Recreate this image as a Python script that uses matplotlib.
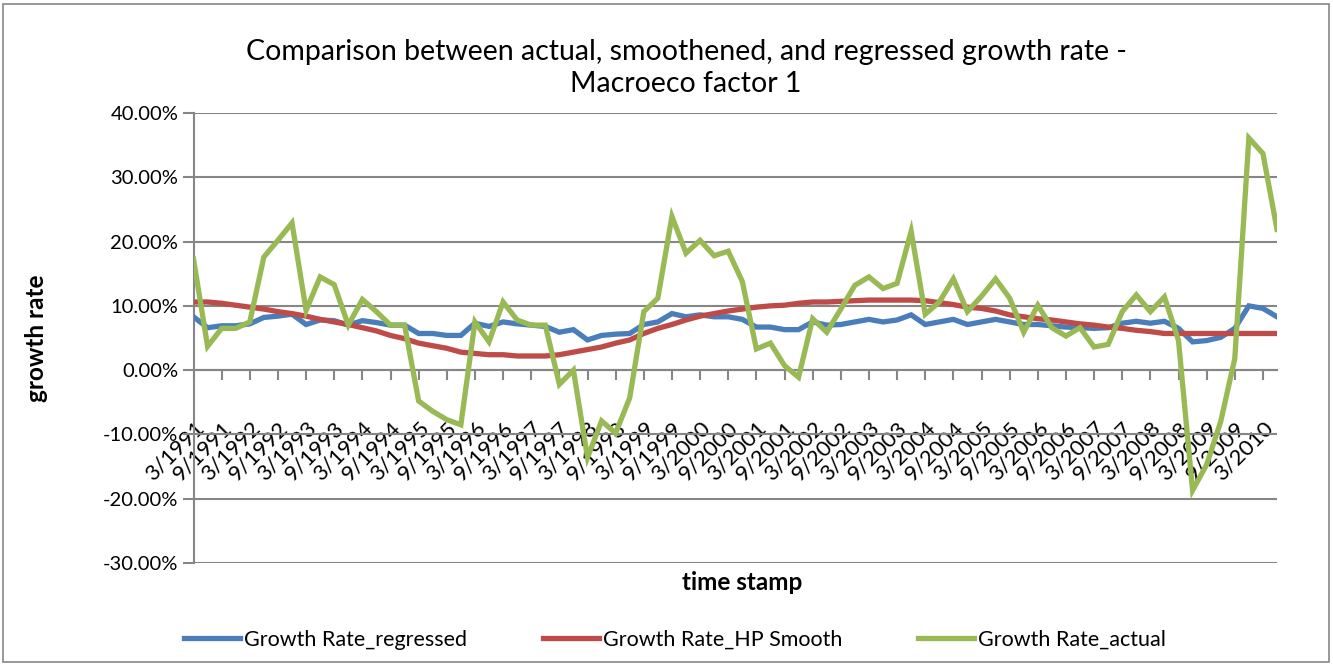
import matplotlib
matplotlib.use("Agg")
import matplotlib.pyplot as plt
from matplotlib.patches import Rectangle
from matplotlib.ticker import FuncFormatter

plt.rcParams['font.family'] = ['Lato', 'DejaVu Sans']

years = list(range(1991, 2011))
months = [3, 6, 9, 12]
periods = [f"{m}/{y}" for y in years for m in months][:78]

regressed = [8.3, 6.6, 6.9, 6.9, 7.2, 8.2, 8.4, 8.7, 7.1, 7.8, 7.7, 7.0, 7.7, 7.4, 7.0,
             7.0, 5.7, 5.7, 5.4, 5.4, 7.3, 6.8, 7.5, 7.2, 7.0, 6.8, 5.9, 6.3, 4.7, 5.4,
             5.6, 5.7, 7.1, 7.5, 8.8, 8.3, 8.6, 8.3, 8.3, 7.9, 6.7, 6.7, 6.3, 6.3, 7.5,
             7.0, 7.1, 7.5, 7.9, 7.5, 7.8, 8.6, 7.1, 7.5, 7.9, 7.1, 7.5, 7.9, 7.5, 7.1,
             7.1, 6.9, 6.7, 6.6, 6.5, 6.6, 7.3, 7.6, 7.3, 7.6, 6.5, 4.4, 4.6, 5.1, 6.5,
             10.0, 9.6, 8.3]
hp_smooth = [10.6, 10.6, 10.4, 10.1, 9.8, 9.5, 9.1, 8.8, 8.4, 7.9, 7.5, 7.1, 6.6, 6.1, 5.4,
             4.9, 4.2, 3.8, 3.4, 2.8, 2.6, 2.4, 2.4, 2.2, 2.2, 2.2, 2.4, 2.8, 3.2, 3.6,
             4.2, 4.7, 5.7, 6.5, 7.1, 7.8, 8.4, 8.8, 9.2, 9.5, 9.8, 10.0, 10.1, 10.4, 10.6,
             10.6, 10.7, 10.8, 10.9, 10.9, 10.9, 10.9, 10.8, 10.5, 10.2, 9.8, 9.6, 9.2, 8.6, 8.3,
             8.0, 7.8, 7.5, 7.2, 7.0, 6.7, 6.5, 6.2, 6.0, 5.7, 5.7, 5.7, 5.7, 5.7, 5.7,
             5.7, 5.7, 5.7]
actual = [17.3, 3.7, 6.5, 6.5, 7.5, 17.6, 20.2, 22.9, 9.3, 14.5, 13.3, 7.0, 11.0, 9.1, 7.0,
          7.0, -4.8, -6.4, -7.7, -8.5, 7.5, 4.4, 10.6, 7.8, 7.0, 7.0, -2.2, 0.0, -13.6, -7.9,
          -9.8, -4.3, 9.1, 11.2, 23.9, 18.2, 20.2, 17.8, 18.5, 13.8, 3.3, 4.2, 0.7, -1.1, 8.0,
          5.9, 9.5, 13.2, 14.5, 12.7, 13.5, 21.6, 8.7, 10.6, 14.2, 9.1, 11.5, 14.2, 11.2, 5.9,
          10.1, 6.6, 5.3, 6.6, 3.6, 4.0, 9.1, 11.7, 9.1, 11.4, 4.6, -18.7, -14.7, -8.0, 1.8,
          36.1, 33.7, 21.9]

series_names = ["Growth Rate_regressed", "Growth Rate_HP Smooth", "Growth Rate_actual"]
colors = ["#4A7EBB", "#BE4B48", "#98B954"]
yticks = [-30, -20, -10, 0, 10, 20, 30, 40]

W, H = 1333, 665
fig = plt.figure(figsize=(W / 100, H / 100), dpi=100)
fig.patches.append(Rectangle((3 / W, 3 / H), 1 - 7 / W, 1 - 7 / H, transform=fig.transFigure,
                             fill=False, edgecolor="#868686", linewidth=1.2))

ax = fig.add_axes([193.5 / W, 1 - 563 / H, (1277 - 193.5) / W, (563 - 113) / H])
x = list(range(len(periods)))
for vals, name, c in zip([regressed, hp_smooth, actual], series_names, colors):
    ax.plot(x, vals, color=c, lw=3.8, label=name, solid_joinstyle='miter', zorder=3)

ax.set_xlim(0, len(periods) - 1)
ax.set_ylim(-30, 40)
ax.set_yticks(yticks)
ax.yaxis.set_major_formatter(FuncFormatter(lambda v, p: f"{v:.2f}%"))
ax.grid(axis='y', color="#868686", lw=1.5)
ax.set_axisbelow(True)

for s in ['top', 'right']:
    ax.spines[s].set_visible(False)
ax.spines['left'].set_color("#868686")
ax.spines['left'].set_linewidth(1.5)
ax.spines['bottom'].set_position(('data', 0))
ax.spines['bottom'].set_color("#868686")
ax.spines['bottom'].set_linewidth(1.5)

ax.set_xticks(x[::2])
ax.set_xticklabels(periods[::2], rotation=45, ha='right', va='top', rotation_mode='anchor')
ax.tick_params(axis='x', direction='out', length=7, width=1.5, color="#868686",
               labelsize=16, pad=27)
ax.tick_params(axis='y', direction='out', length=8, width=1.5, color="#868686",
               labelsize=14.5, pad=3)

fig.text(686 / W, 1 - 68 / H, "Comparison between actual, smoothened, and regressed growth rate -\nMacroeco factor 1",
         ha='center', va='center', fontsize=20.5, linespacing=1.3)
fig.text(36 / W, 1 - 338 / H, "growth rate", rotation=90, ha='center', va='center',
         fontsize=17.5, fontweight='bold')
fig.text(742 / W, 1 - 583 / H, "time stamp", ha='center', va='center',
         fontsize=17.5, fontweight='bold')

fig.legend(loc='center', bbox_to_anchor=(675 / W, 1 - 640 / H), ncol=3, frameon=False,
           fontsize=15.5, handlelength=2.6, columnspacing=3.5, handletextpad=0.2)

fig.savefig("out.png", dpi=100)
